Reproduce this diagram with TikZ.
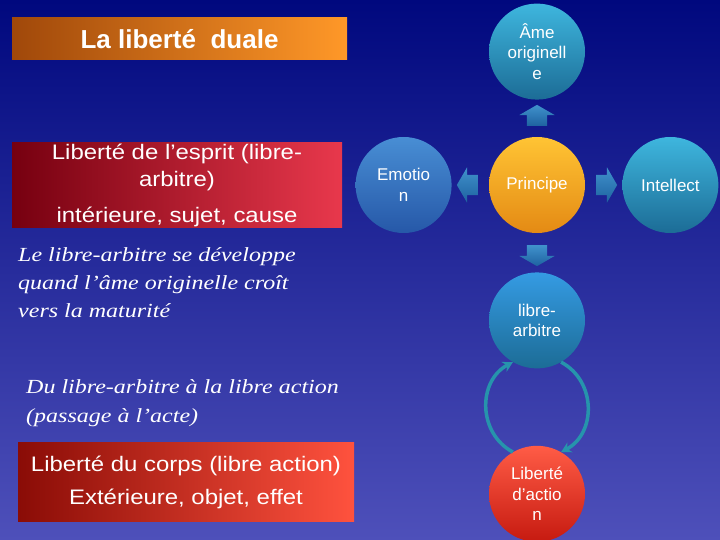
\documentclass[tikz,border=0pt]{standalone}
\usepackage{fontspec}
\setmainfont{Liberation Sans}
\newfontfamily\boxfont[FakeStretch=1.14]{Liberation Sans}
\newfontfamily\notefont[FakeStretch=1.2]{Liberation Serif}
\usepackage{tikz}
\usetikzlibrary{arrows.meta,shapes.arrows,positioning,calc}

\definecolor{bgtop}{RGB}{0,8,126}
\definecolor{bgbot}{RGB}{78,80,186}
\definecolor{ttll}{RGB}{160,72,10}
\definecolor{ttlr}{RGB}{255,152,40}
\definecolor{espl}{RGB}{118,0,16}
\definecolor{espr}{RGB}{232,56,76}
\definecolor{corl}{RGB}{138,12,6}
\definecolor{corr}{RGB}{255,82,62}
\definecolor{teall}{RGB}{62,182,222}
\definecolor{teald}{RGB}{28,108,150}
\definecolor{emol}{RGB}{72,142,212}
\definecolor{emod}{RGB}{38,88,168}
\definecolor{orl}{RGB}{255,196,52}
\definecolor{ord}{RGB}{228,138,20}
\definecolor{redl}{RGB}{255,92,70}
\definecolor{redd}{RGB}{198,26,16}
\definecolor{arrl}{RGB}{64,146,204}
\definecolor{arrd}{RGB}{30,98,160}
\definecolor{cyc}{RGB}{38,148,172}

\begin{document}
\begin{tikzpicture}[x=1pt,y=1pt,
	ball/.style={circle,minimum size=96pt,inner sep=0pt,align=center,text=white,font=\fontsize{17}{20.5}\selectfont},
	band/.style={inner sep=0pt,align=center,text=white},
	note/.style={inner sep=0pt,align=left,text=white,anchor=north west},
	blockar/.style={single arrow,minimum height=21pt,minimum width=35pt,
		single arrow head extend=7.5pt,single arrow tip angle=120,top color=arrl,bottom color=arrd},
	harr/.style={blockar,inner xsep=5pt,inner ysep=10pt},
	varr/.style={blockar,inner xsep=10pt,inner ysep=5pt},
	cycar/.style={-{Stealth[length=10pt,width=11pt]},line width=3.5pt,draw=cyc,looseness=1.14}]

	\shade[top color=bgtop,bottom color=bgbot] (0,0) rectangle (720,-540);
	\useasboundingbox (0,0) rectangle (720,-540);

	% left column
	\node[band,left color=ttll,right color=ttlr,minimum width=335pt,minimum height=42pt,
		font=\bfseries\fontsize{26}{30}\selectfont] (title) at (179.5,-39) {La liberté~ duale};
	\node[band,left color=espl,right color=espr,minimum width=330pt,minimum height=85pt,
		font=\boxfont\fontsize{21}{27}\selectfont] (esprit) at (177,-185)
		{Liberté de l’esprit (libre-\\arbitre)\\[9pt]intérieure, sujet, cause};
	\node[note,font=\notefont\itshape\fontsize{20}{28}\selectfont] (matur) at (18,-247)
		{Le libre-arbitre se développe\\quand l’âme originelle croît\\vers la maturité};
	\node[note,font=\notefont\itshape\fontsize{20}{29}\selectfont] (passage) at (26,-379)
		{Du libre-arbitre à la libre action\\(passage à l’acte)};
	\node[band,left color=corl,right color=corr,minimum width=336pt,minimum height=79pt,
		font=\boxfont\fontsize{21}{33}\selectfont] (corps) at (186,-482)
		{Liberté du corps (libre action)\\Extérieure, objet, effet};

	% circles
	\node[ball,top color=orl,bottom color=ord] (prin) at (537,-185) {Principe};
	\node[ball,top color=teall,bottom color=teald,above=37pt of prin] (ame) {Âme\\originell\\e};
	\node[ball,top color=emol,bottom color=emod,left=37pt of prin] (emo) {Emotio\\n};
	\node[ball,top color=teall,bottom color=teald,right=37pt of prin] (intel) {Intellect};
	\node[ball,top color=teall!85!blue,bottom color=teald,below=39pt of prin] (libre) {libre-\\arbitre};
	\node[ball,top color=redl,bottom color=redd,below=77pt of libre] (act) {Liberté\\d’actio\\n};

	\node[varr,shape border rotate=90] (ua) at ($(prin.north)!.5!(ame.south)$) {};
	\node[harr,shape border rotate=180] (la) at ($(prin.west)!.5!(emo.east)$) {};
	\node[harr] (ra) at ($(prin.east)!.5!(intel.west)$) {};
	\node[varr,shape border rotate=270] (da) at ($(prin.south)!.5!(libre.north)$) {};

	\draw[cycar] (act.120) to[out=152,in=208] (libre.240);
	\draw[cycar] (libre.300) to[out=-28,in=28] (act.60);
\end{tikzpicture}
\end{document}
